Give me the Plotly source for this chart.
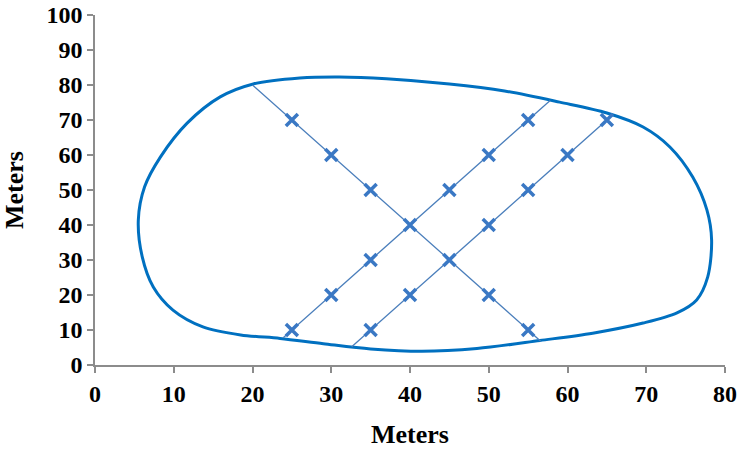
import plotly.graph_objects as go

# Boundary outline (closed)
bx = [20.1, 26.0, 31.0, 37.0, 45.0, 52.0, 59.0, 65.0, 69.6, 73.0, 75.9, 77.7, 78.3, 77.8, 76.4, 73.9,
      69.6, 63.2, 56.5, 48.5, 41.5, 35.0, 29.0, 23.5, 18.5, 13.7, 9.9, 7.4, 6.0, 5.5, 6.3, 8.3,
      11.7, 15.9, 20.1]
by = [80.3, 82.0, 82.3, 81.8, 80.3, 78.3, 75.1, 72.0, 68.0, 62.3, 53.7, 44.3, 35.7, 25.1, 18.6, 14.9,
      12.0, 9.1, 7.0, 4.7, 3.9, 4.6, 6.1, 7.6, 8.6, 10.9, 15.7, 22.3, 30.9, 41.4, 50.9, 59.4,
      69.1, 76.6, 80.3]

# Transect lines (end points at the boundary)
l1x = [20, 25, 30, 35, 40, 45, 50, 55, 56.6]
l1y = [80, 70, 60, 50, 40, 30, 20, 10, 6.8]
l2x = [23.9, 25, 30, 35, 40, 45, 50, 55, 57.8]
l2y = [7.8, 10, 20, 30, 40, 50, 60, 70, 75.6]
l3x = [32.6, 35, 40, 45, 50, 55, 60, 65]
l3y = [5.2, 10, 20, 30, 40, 50, 60, 70]

# Sampling points (markers)
px = [25, 30, 35, 40, 45, 50, 55, 25, 30, 35, 45, 50, 55, 35, 40, 50, 55, 60, 65]
py = [70, 60, 50, 40, 30, 20, 10, 10, 20, 30, 50, 60, 70, 10, 20, 40, 50, 60, 70]

xticks = [0, 10, 20, 30, 40, 50, 60, 70, 80]
yticks = [0, 10, 20, 30, 40, 50, 60, 70, 80, 90, 100]

fig = go.Figure()
fig.add_trace(go.Scatter(x=bx, y=by, mode="lines",
                         line=dict(color="#0070c0", width=3, shape="spline", smoothing=0.9),
                         hoverinfo="skip"))
for lx, ly in [(l1x, l1y), (l2x, l2y), (l3x, l3y)]:
    fig.add_trace(go.Scatter(x=lx, y=ly, mode="lines", line=dict(color="#4a7ebb", width=1.3)))
fig.add_trace(go.Scatter(x=px, y=py, mode="markers",
                         marker=dict(symbol="x-thin", size=12, color="#3a78c4",
                                     line=dict(width=3.5, color="#3a78c4"))))

tickfont = dict(family="Liberation Serif", size=24, color="black", weight="bold")
titlefont = dict(family="Liberation Serif", size=26, color="black", weight="bold")
axis_common = dict(showgrid=False, zeroline=False, automargin=False,
                   ticklabeloverflow="allow",
                   showline=True, linecolor="#8c8c8c", linewidth=1.5,
                   ticks="outside", ticklen=6, tickcolor="#8c8c8c", tickwidth=1.5,
                   tickfont=tickfont)
fig.update_layout(
    width=740, height=449, showlegend=False,
    plot_bgcolor="white", paper_bgcolor="white",
    margin=dict(l=95, r=15, t=15, b=84),
    xaxis=dict(range=[0, 80], tickvals=xticks,
               title=dict(text="Meters", font=titlefont, standoff=22), **axis_common),
    yaxis=dict(range=[0, 100], tickvals=yticks,
               title=dict(text="Meters", font=titlefont, standoff=22), **axis_common),
)
fig.write_html("out.html", config={"displayModeBar": False},
               post_script="document.body.style.margin='0';")
